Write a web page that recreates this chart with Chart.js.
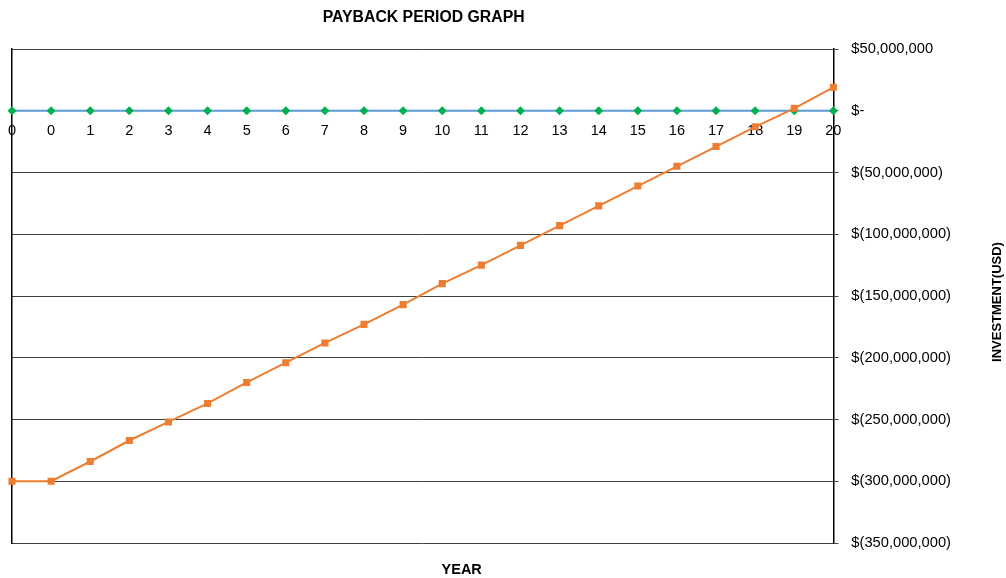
<!DOCTYPE html>
<html>
<head>
<meta charset="utf-8">
<script src="https://cdn.jsdelivr.net/npm/chart.js@4"></script>
<style>
  html, body { margin: 0; padding: 0; background: #fff; }
  #wrap { width: 1006px; height: 578px; position: relative; }
</style>
</head>
<body>
<div id="wrap"><canvas id="chart"></canvas></div>
<script>
// year labels, the first year shows twice (initial outlay + year 0)
const years = ['0', '0', '1', '2', '3', '4', '5', '6', '7', '8', '9', '10',
  '11', '12', '13', '14', '15', '16', '17', '18', '19', '20'];

// cumulative cash position, USD
const cumulative = [-300e6, -300e6, -284e6, -267e6, -252e6, -237e6, -220e6, -204e6,
  -188e6, -173e6, -157e6, -140e6, -125e6, -109e6, -93e6, -77e6, -61e6, -45e6,
  -29e6, -13e6, 2e6, 19e6];

// break-even reference line
const breakEven = [0, 0, 0, 0, 0, 0, 0, 0, 0, 0, 0, 0, 0, 0, 0, 0, 0, 0, 0, 0, 0, 0];

const title = 'PAYBACK PERIOD GRAPH';
const xTitle = 'YEAR';
const yTitle = 'INVESTMENT(USD)';

const money = (v) => {
  if (v === 0) return '$-';
  const s = Math.abs(v).toLocaleString('en-US');
  return v < 0 ? '$(' + s + ')' : '$' + s;
};

// titles are placed against the plot area, like the spreadsheet did
const titles = {
  id: 'titles',
  afterDraw(chart) {
    const { ctx, chartArea } = chart;
    const mid = (chartArea.left + chartArea.right) / 2;
    ctx.save();
    ctx.fillStyle = '#000';
    ctx.textAlign = 'center';
    ctx.textBaseline = 'middle';
    ctx.font = 'bold 15.8px "Liberation Sans", Arial, sans-serif';
    ctx.fillText(title, mid + 1, 18);
    ctx.font = 'bold 14.5px "Liberation Sans", Arial, sans-serif';
    ctx.fillText(xTitle, mid + 39, 570);
    ctx.font = 'bold 13px "Liberation Sans", Arial, sans-serif';
    ctx.translate(997, 302);
    ctx.rotate(-Math.PI / 2);
    ctx.fillText(yTitle, 0, 0);
    ctx.restore();
  },
};

Chart.defaults.font.family = '"Liberation Sans", Arial, sans-serif';
Chart.defaults.font.size = 14.5;
Chart.defaults.color = '#000';

new Chart(document.getElementById('chart'), {
  type: 'line',
  data: {
    labels: years,
    datasets: [{
      label: 'Cumulative',
      data: cumulative,
      borderColor: '#ED7D31',
      backgroundColor: '#ED7D31',
      borderWidth: 2,
      pointStyle: 'rect',
      pointRadius: 5,
      pointBorderWidth: 0,
      tension: 0,
    }, {
      label: 'Break even',
      data: breakEven,
      borderColor: '#5B9BD5',
      backgroundColor: '#00B050',
      borderWidth: 2,
      pointStyle: 'rectRot',
      pointRadius: 4.5,
      pointBorderWidth: 0,
      tension: 0,
    }],
  },
  options: {
    responsive: true,
    maintainAspectRatio: false,
    animation: false,
    layout: { padding: { top: 49, bottom: 35, left: 12, right: 42 } },
    plugins: {
      legend: { display: false },
      tooltip: { enabled: false },
    },
    scales: {
      x: {
        position: { y: 0 },
        offset: false,
        grid: { display: false, drawTicks: false },
        border: { display: false },
        ticks: { autoSkip: false, maxRotation: 0, padding: 12 },
        // end labels may hang over the plot edges, as in the original
        afterFit(scale) {
          scale.paddingLeft = 0;
          scale.paddingRight = 0;
        },
      },
      y: {
        position: 'right',
        min: -350e6,
        max: 50e6,
        grid: { color: '#404040', lineWidth: 1, tickLength: 5 },
        border: { display: true, color: '#000', width: 1.5 },
        ticks: { stepSize: 50e6, padding: 13, font: { size: 14.7 }, callback: money },
      },
      y2: {
        position: 'left',
        display: true,
        grid: { display: false, drawTicks: false },
        border: { display: true, color: '#000', width: 1.5 },
        ticks: { display: false },
      },
    },
  },
  plugins: [titles],
});
</script>
</body>
</html>
